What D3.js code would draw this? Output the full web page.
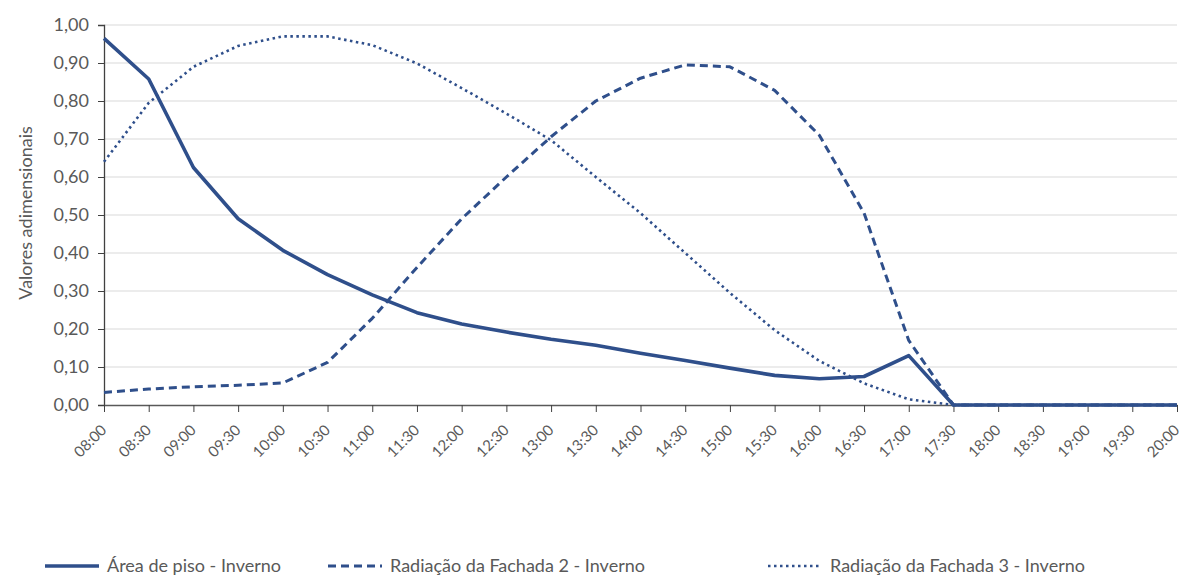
<!DOCTYPE html>
<html><head><meta charset="utf-8">
<script src="https://cdn.jsdelivr.net/npm/d3@7"></script>
<style>body{margin:0;background:#fff}svg{display:block}text{font-family:Lato,"Open Sans",sans-serif}</style>
</head><body>
<svg id="c" width="1183" height="578"></svg>
<script>
const categories = ["08:00","08:30","09:00","09:30","10:00","10:30","11:00","11:30","12:00","12:30","13:00","13:30","14:00","14:30","15:00","15:30","16:00","16:30","17:00","17:30","18:00","18:30","19:00","19:30","20:00"];
const areaPiso = [0.965,0.858,0.625,0.49,0.407,0.343,0.29,0.243,0.213,0.192,0.173,0.157,0.136,0.117,0.097,0.078,0.069,0.075,0.13,0,0,0,0,0,0];
const fachada2 = [0.033,0.042,0.048,0.052,0.058,0.112,0.228,0.362,0.49,0.60,0.706,0.80,0.86,0.895,0.89,0.828,0.71,0.505,0.17,0,0,0,0,0,0];
const fachada3 = [0.64,0.795,0.89,0.945,0.97,0.97,0.947,0.899,0.834,0.767,0.697,0.60,0.505,0.40,0.295,0.197,0.116,0.057,0.015,0,0,0,0,0,0];
const yTicks = [0,0.1,0.2,0.3,0.4,0.5,0.6,0.7,0.8,0.9,1.0];
const seriesNames = ["Área de piso - Inverno","Radiação da Fachada 2 - Inverno","Radiação da Fachada 3 - Inverno"];

const color = "#2f4f8b";
const svg = d3.select("#c");
const x = d3.scalePoint().domain(categories).range([104, 1177]);
const y = d3.scaleLinear().domain([0,1]).range([405, 25]);

// gridlines
svg.append("g").selectAll("line").data(yTicks.slice(1)).join("line")
  .attr("x1",104).attr("x2",1177).attr("y1",d=>y(d)).attr("y2",d=>y(d))
  .attr("stroke","#d9d9d9").attr("stroke-width",1);

// y axis
const ya = svg.append("g").attr("transform","translate(104,0)")
  .call(d3.axisLeft(y).tickValues(yTicks).tickSize(6).tickPadding(9).tickFormat(d=>d3.format(".2f")(d).replace(".",",")));
ya.select(".domain").attr("stroke","#404040").attr("stroke-width",1.3);
ya.selectAll(".tick line").attr("stroke","#404040");
ya.selectAll("text").attr("font-size",18).attr("fill","#595959").style("font-family","Lato");

// x axis
const xa = svg.append("g").attr("transform","translate(0,405)")
  .call(d3.axisBottom(x).tickSize(7).tickSizeOuter(0));
xa.select(".domain").attr("stroke","#595959").attr("stroke-width",1.5);
xa.selectAll(".tick line").attr("stroke","#404040");
xa.selectAll("text").attr("font-size",15).attr("fill","#595959").style("font-family","Lato")
  .attr("text-anchor","end").attr("dy",null).attr("y",0)
  .attr("transform","translate(3,26) rotate(-45)");

// y title
svg.append("text").attr("transform","translate(32,213) rotate(-90)")
  .attr("text-anchor","middle").attr("font-size",18).attr("fill","#595959").text("Valores adimensionais");

const line = d3.line().x((d,i)=>x(categories[i])).y(d=>y(d));
const styles = [
  {data:areaPiso, w:3.6, dash:null},
  {data:fachada2, w:3, dash:"8,5"},
  {data:fachada3, w:2.6, dash:"2.5,3.5"}
];
svg.append("g").selectAll("path").data(styles).join("path")
  .attr("d",d=>line(d.data)).attr("fill","none").attr("stroke",color)
  .attr("stroke-width",d=>d.w).attr("stroke-dasharray",d=>d.dash).attr("stroke-linejoin","round");

// legend
const legX = [45, 328, 768];
const lg = svg.append("g").selectAll("g").data(styles).join("g")
  .attr("transform",(d,i)=>`translate(${legX[i]},566)`);
lg.append("line").attr("x1",0).attr("x2",54).attr("y1",0).attr("y2",0)
  .attr("stroke",color).attr("stroke-width",d=>d.w).attr("stroke-dasharray",d=>d.dash);
lg.append("text").attr("x",62).attr("y",0).attr("dy","0.35em")
  .attr("font-size",18).attr("fill","#595959").text((d,i)=>seriesNames[i]);
</script>
</body></html>
